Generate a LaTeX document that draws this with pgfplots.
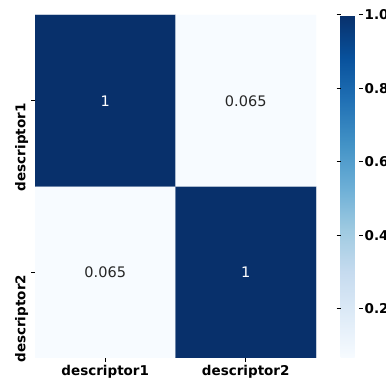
\documentclass[border=0pt]{standalone}
\usepackage{fontspec}
\setmainfont{DejaVu Sans}
\usepackage{pgfplots}
\usepackage{pgfplotstable}
\pgfplotsset{compat=1.18}
\definecolor{annot}{HTML}{262626}

% correlation matrix: x = column, y = row (descriptor1 at y=1, top)
\pgfplotstableread{
x y c
0 0 0.065
1 0 1
0 1 1
1 1 0.065
}\corr

\begin{document}
\begin{tikzpicture}
\useasboundingbox (0,0) rectangle (386bp,383bp);
\begin{axis}[
  at={(35bp,25bp)}, anchor=south west,
  scale only axis, width=281bp, height=343bp,
  xmin=-0.5, xmax=1.5, ymin=-0.5, ymax=1.5,
  axis line style={draw=none},
  xtick={0,1}, ytick={0,1},
  xticklabels={descriptor1,descriptor2},
  yticklabels={descriptor2,descriptor1},
  tick align=outside, xtick pos=bottom, ytick pos=left,
  major tick length=4bp,
  tick style={black, line width=1bp},
  ticklabel style={font=\fontsize{13.5bp}{16bp}\selectfont\bfseries, text=black},
  yticklabel style={rotate=90, anchor=south east, inner sep=2.5bp},
  colormap={blues}{rgb255=(247,251,255) rgb255=(222,235,247) rgb255=(198,219,239)
    rgb255=(158,202,225) rgb255=(107,174,214) rgb255=(66,146,198)
    rgb255=(33,113,181) rgb255=(8,81,156) rgb255=(8,48,107)},
  point meta min=0.065, point meta max=1,
  colorbar,
  colorbar style={
    at={(parent axis.north east)}, anchor=north west, xshift=16bp,
    width=18bp,
    ytick={0.2,0.4,0.6,0.8,1.0},
    yticklabel style={/pgf/number format/.cd, fixed, fixed zerofill, precision=1,
      assume math mode=true, /tikz/.cd,
      font=\fontsize{13.5bp}{16bp}\selectfont\bfseries, inner sep=2bp},
    tick align=outside, major tick length=4bp,
    tick style={black, line width=1bp},
    axis line style={draw=none},
  },
]
\addplot[matrix plot*, mesh/cols=2, point meta=explicit] table[meta=c] {\corr};

% cell annotations, white on dark cells and dark grey on light cells
\addplot[only marks, mark=none, point meta=explicit,
  restrict expr to domain={\thisrow{c}}{0.5:2},
  nodes near coords={\pgfmathprintnumber[fixed,precision=3,assume math mode=true]{\pgfplotspointmeta}},
  every node near coord/.append style={anchor=center, text=white,
    font=\fontsize{14.5bp}{17bp}\selectfont}]
  table[meta=c] {\corr};
\addplot[only marks, mark=none, point meta=explicit,
  restrict expr to domain={\thisrow{c}}{0:0.5},
  nodes near coords={\pgfmathprintnumber[fixed,precision=3,assume math mode=true]{\pgfplotspointmeta}},
  every node near coord/.append style={anchor=center, text=annot,
    font=\fontsize{14.5bp}{17bp}\selectfont}]
  table[meta=c] {\corr};
\end{axis}
\end{tikzpicture}
\end{document}
